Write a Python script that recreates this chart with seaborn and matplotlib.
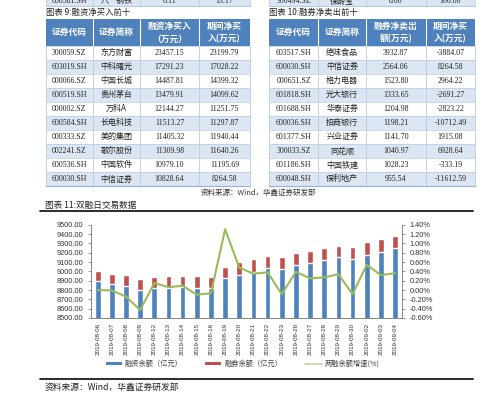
import numpy as np
import pandas as pd
import matplotlib
matplotlib.use("Agg")
import matplotlib.pyplot as plt
import seaborn as sns
from matplotlib.patches import Rectangle
from matplotlib.lines import Line2D

# ---------------- data ----------------
dates = ["2019-08-06", "2019-08-07", "2019-08-08", "2019-08-09", "2019-08-12",
         "2019-08-13", "2019-08-14", "2019-08-15", "2019-08-16", "2019-08-19",
         "2019-08-20", "2019-08-21", "2019-08-22", "2019-08-23", "2019-08-26",
         "2019-08-27", "2019-08-28", "2019-08-29", "2019-08-30", "2019-09-02",
         "2019-09-03", "2019-09-04"]
financing = [8900, 8864, 8843, 8800, 8818, 8825, 8836, 8818, 8825, 8925, 8961,
             8997, 9040, 9025, 9068, 9086, 9118, 9150, 9132, 9175, 9211, 9254]
lending = [107, 108, 118, 122, 121, 122, 114, 129, 111, 125, 136,
           132, 125, 129, 125, 129, 129, 122, 129, 140, 136, 125]
growth = [0.00, -0.01, -0.14, -0.43, 0.15, 0.06, 0.09, -0.10, -0.07, 1.30, 0.48,
          0.35, 0.38, -0.09, 0.39, 0.25, 0.27, 0.34, -0.09, 0.54, 0.32, 0.36]

left_title = "图表 9:融资净买入前十"
left_headers = [["证券代码"], ["证券简称"], ["融资净买入", "（万元）"], ["期间净买", "入(万元)"]]
left_codes = ["300059.SZ", "603019.SH", "000066.SZ", "600519.SH", "000002.SZ",
              "600584.SH", "000333.SZ", "002241.SZ", "600536.SH", "600030.SH"]
left_names = ["东方财富", "中科曙光", "中国长城", "贵州茅台", "万科A",
              "长电科技", "美的集团", "歌尔股份", "中国软件", "中信证券"]
left_buy = ["23457.15", "17291.23", "14487.81", "13479.91", "12144.27",
            "11513.27", "11405.32", "11309.98", "10979.10", "10828.64"]
left_period = ["23199.79", "17028.22", "14399.32", "14099.62", "11251.75",
               "11297.87", "11940.44", "11640.26", "11195.69", "8264.58"]
left_partial = ["600581.SH", "八一钢铁", "6.11", "13.17"]

right_title = "图表 10:融券净卖出前十"
right_headers = [["证券代码"], ["证券简称"], ["融券净卖出", "额(万元)"], ["期间净买", "入(万元)"]]
right_codes = ["603517.SH", "600030.SH", "000651.SZ", "601818.SH", "601688.SH",
               "600036.SH", "601377.SH", "300033.SZ", "601186.SH", "600048.SH"]
right_names = ["绝味食品", "中信证券", "格力电器", "光大银行", "华泰证券",
               "招商银行", "兴业证券", "同花顺", "中国铁建", "保利地产"]
right_sell = ["3932.87", "2564.06", "1523.80", "1333.65", "1204.98",
              "1198.21", "1141.70", "1040.97", "1028.23", "955.54"]
right_period = ["-3884.07", "8264.58", "2964.22", "-2691.27", "-2823.22",
                "-10712.49", "1915.08", "6928.64", "-333.19", "-11612.59"]
right_partial = ["300494.SZ", "保龄宝", "0.00", "100.00"]

chart_title = "图表 11:双融日交易数据"
source_text = "资料来源：Wind，华鑫证券研发部"
legend_labels = ["融资余额（亿元）", "融券余额（亿元）", "两融余额增速(%)"]

# ---------------- style ----------------
sns.set_style("white")
plt.rcParams['font.family'] = ['Noto Sans CJK SC', 'DejaVu Sans']

BLUE = "#4f81bd"
RED = "#c0504d"
GREEN = "#9bbb59"
HDR = "#4f81bd"
LIGHT = "#dce6f2"
GRID = "#b8cce4"
AXC = "#868686"
TXT = "#222222"
NUMFONT = ['Liberation Serif', 'DejaVu Serif']
CJK = ['Noto Sans CJK SC', 'DejaVu Sans']

fig = plt.figure(figsize=(5, 3.99), dpi=100)
ov = fig.add_axes([0, 0, 1, 1])
ov.set_xlim(0, 500)
ov.set_ylim(399, 0)
ov.axis('off')


def draw_table(xe, title, headers, cols, partial):
    x0, x1 = xe[0], xe[-1]
    ov.text(x0, 12, title, fontsize=6.0, ha='left', va='center', color=TXT, family=CJK)
    # partial row at the very top (cut off)
    ov.add_patch(Rectangle((x0, -10), x1 - x0, 16, fc=LIGHT, ec='none', zorder=1))
    for j in range(4):
        cx = (xe[j] + xe[j + 1]) / 2
        fam = CJK if j == 1 else NUMFONT
        fs = 5.8 if j == 1 else 5.7
        ov.text(cx, 1.0, partial[j], fontsize=fs, ha='center', va='center', color=TXT, family=fam, zorder=3)
    ov.plot([x0, x1], [6, 6], color=GRID, lw=0.8, zorder=2)
    for xv in xe:
        ov.plot([xv, xv], [-2, 6], color=GRID, lw=0.6, zorder=2)
    # header
    ov.add_patch(Rectangle((x0, 19), x1 - x0, 26.5, fc=HDR, ec='none', zorder=1))
    for xv in xe[1:-1]:
        ov.plot([xv, xv], [19, 45.5], color='white', lw=0.8, zorder=2)
    for j, h in enumerate(headers):
        cx = (xe[j] + xe[j + 1]) / 2
        if len(h) == 1:
            ov.text(cx, 32.5, h[0], fontsize=6.3, ha='center', va='center', color='white',
                    family=CJK, fontweight='bold', zorder=3)
        else:
            ov.text(cx, 26.0, h[0], fontsize=6.3, ha='center', va='center', color='white',
                    family=CJK, fontweight='bold', zorder=3)
            ov.text(cx, 39.0, h[1], fontsize=6.3, ha='center', va='center', color='white',
                    family=CJK, fontweight='bold', zorder=3)
    # body
    y0, rh = 45.5, 14.05
    n = len(cols[0])
    for i in range(n):
        y = y0 + i * rh
        ov.add_patch(Rectangle((x0, y), x1 - x0, rh, fc=('white' if i % 2 == 0 else LIGHT),
                               ec='none', zorder=1))
        for j in range(4):
            cx = (xe[j] + xe[j + 1]) / 2
            fam = CJK if j == 1 else NUMFONT
            fs = 5.8 if j == 1 else 5.7
            ov.text(cx, y + rh / 2, cols[j][i], fontsize=fs, ha='center', va='center',
                    color=TXT, family=fam, zorder=3)
        ov.plot([x0, x1], [y, y], color=GRID, lw=0.5, zorder=2)
    yb = y0 + n * rh
    for xv in xe:
        ov.plot([xv, xv], [y0, yb], color=GRID, lw=0.6, zorder=2)
    ov.plot([x0, x1], [yb, yb], color="#95b3d7", lw=0.8, zorder=2)


draw_table([45.7, 92.7, 140, 199, 250], left_title, left_headers,
           [left_codes, left_names, left_buy, left_period], left_partial)
draw_table([269, 318.3, 366, 425.7, 475.3], right_title, right_headers,
           [right_codes, right_names, right_sell, right_period], right_partial)

ov.text(258, 193.3, source_text, fontsize=5.4, ha='center', va='center', color='#333333', family=CJK)
ov.text(45, 205, chart_title, fontsize=6.2, ha='left', va='center', color=TXT, family=CJK)
ov.plot([40, 473], [211, 211], color='#1a1a1a', lw=1.3)
ov.plot([40, 473], [379, 379], color='#1a1a1a', lw=1.3)
ov.text(45, 387, source_text, fontsize=6.3, ha='left', va='center', color=TXT, family=CJK)

# legend (manual)
ov.add_patch(Rectangle((106, 362.2), 16, 3, fc=BLUE, ec='none'))
ov.text(125, 363.8, legend_labels[0], fontsize=5.2, ha='left', va='center', color='#404040', family=CJK)
ov.add_patch(Rectangle((205, 362.2), 16, 3, fc=RED, ec='none'))
ov.text(225, 363.8, legend_labels[1], fontsize=5.2, ha='left', va='center', color='#404040', family=CJK)
ov.plot([305, 322], [363.8, 363.8], color="#c4d79b", lw=1.2)
ov.text(325, 363.8, legend_labels[2], fontsize=5.2, ha='left', va='center', color='#404040', family=CJK)

# ---------------- chart ----------------
df = pd.DataFrame({"date": dates, "fin": financing, "lend": lending, "growth": growth})
df["total"] = df["fin"] + df["lend"]

ax = fig.add_axes([90.6 / 500, 81 / 399, 311.5 / 500, 93.3 / 399])
ax.set_facecolor('none')
sns.barplot(data=df, x="date", y="total", color=RED, width=0.4, saturation=1,
            errorbar=None, ax=ax)
sns.barplot(data=df, x="date", y="fin", color=BLUE, width=0.4, saturation=1,
            errorbar=None, ax=ax)
ax.set_ylim(8500, 9500)

ax2 = ax.twinx()
sns.lineplot(x=np.arange(len(dates)), y=df["growth"], color=GREEN, lw=1.5, ax=ax2)
ax2.set_ylim(-0.6, 1.4)
ax.set_xlim(-0.5, len(dates) - 0.5)

yt = np.arange(8500, 9501, 100)
ax.set_yticks(yt)
ax.set_yticklabels([f"{v:.2f}" for v in yt], family=['Liberation Sans', 'DejaVu Sans'])
rt = np.round(np.arange(-0.6, 1.41, 0.2), 2)
ax2.set_yticks(rt)
ax2.set_yticklabels([f"{v:.2f}%" for v in rt], family=['Liberation Sans', 'DejaVu Sans'])

ax.set_xticks(np.arange(len(dates)))
ax.set_xticklabels(dates, rotation=90, family=['Liberation Sans', 'DejaVu Sans'])
ax.set_xticks(np.arange(-0.5, len(dates), 1), minor=True)

ax.tick_params(axis='y', length=2, width=0.6, color=AXC, labelsize=5.3, pad=3.5, labelcolor='#333333')
ax2.tick_params(axis='y', length=2, width=0.6, color=AXC, labelsize=5.3, pad=3.5, labelcolor='#333333')
ax.tick_params(axis='x', which='major', length=0, labelsize=4.5, pad=3.5, labelcolor='#333333')
ax.tick_params(axis='x', which='minor', length=2.5, width=0.6, color=AXC)
for a in (ax, ax2):
    a.set_xlabel("")
    a.set_ylabel("")
    a.grid(False)
for s in ['top', 'right']:
    ax.spines[s].set_visible(False)
for s in ['top', 'left', 'bottom']:
    ax2.spines[s].set_visible(False)
for s in ['left', 'bottom']:
    ax.spines[s].set_color(AXC)
    ax.spines[s].set_linewidth(0.7)
ax2.spines['right'].set_color(AXC)
ax2.spines['right'].set_linewidth(0.7)

fig.savefig("out.png", dpi=100, facecolor='white')
